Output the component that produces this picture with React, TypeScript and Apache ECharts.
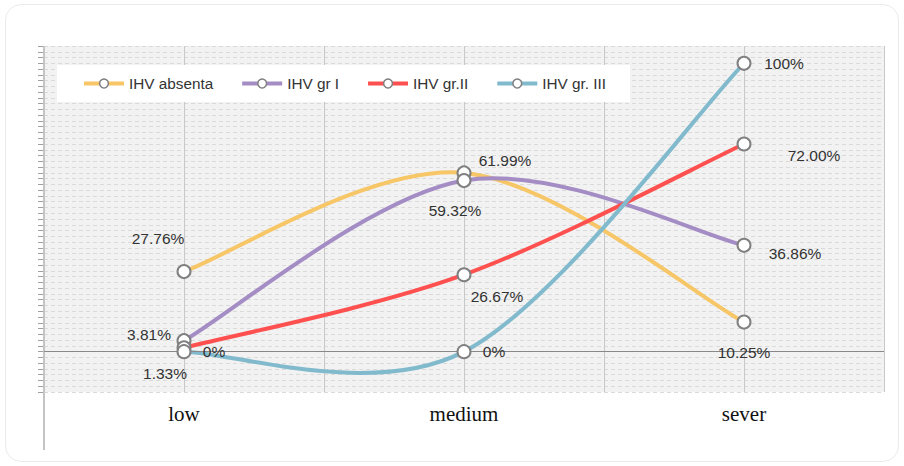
import React, { useEffect, useRef } from "react";
import * as echarts from "echarts";

const categories = ["low", "medium", "sever"];
const seriesNames = ["IHV absenta", "IHV gr I", "IHV gr.II", "IHV gr. III"];
const absentaValues = [27.76, 61.99, 10.25];
const grIValues = [3.81, 59.32, 36.86];
const grIIValues = [1.33, 26.67, 72.0];
const grIIIValues = [0, 0, 100];
const absentaLabels = ["27.76%", "61.99%", "10.25%"];
const grILabels = ["3.81%", "59.32%", "36.86%"];
const grIILabels = ["1.33%", "26.67%", "72.00%"];
const grIIILabels = ["0%", "0%", "100%"];

const colors = ["#F6C667", "#A48CC4", "#FF5050", "#82BACD"];
const labelOffsets = [
  [[-26, -33], [41, -12], [0, 30]],
  [[-35, -6], [-9, 30], [51, 8]],
  [[-19, 26], [33, 22], [70, 11]],
  [[30, 0], [30, 0], [40, 0]],
];

const FONT = "Liberation Sans, Arial, sans-serif";

export default function App() {
  const ref = useRef<HTMLDivElement>(null);
  useEffect(() => {
    if (!ref.current) return;
    const chart = echarts.init(ref.current, undefined, { renderer: "svg" });
    const values = [absentaValues, grIValues, grIIValues, grIIIValues];
    const labels = [absentaLabels, grILabels, grIILabels, grIIILabels];

    // Smooth curves (cardinal spline, tension 1/6) drawn through the axis scales
    const curveSeries: any[] = values.map((vals, si) => ({
      name: "curve-" + si,
      type: "custom",
      coordinateSystem: "cartesian2d",
      xAxisIndex: 0,
      yAxisIndex: 0,
      silent: true,
      z: 2 + si * 0.1,
      encode: { x: 0, y: 1 },
      data: vals.map((v, k) => [k, v]),
      renderItem: (params: any, api: any) => {
        const i = params.dataIndex;
        const n = vals.length;
        if (i >= n - 1) return null;
        const pts = vals.map((v, k) => api.coord([k, v]));
        const p0 = pts[i - 1] || pts[i];
        const p1 = pts[i];
        const p2 = pts[i + 1];
        const p3 = pts[i + 2] || pts[i + 1];
        return {
          type: "bezierCurve",
          shape: {
            x1: p1[0],
            y1: p1[1],
            x2: p2[0],
            y2: p2[1],
            cpx1: p1[0] + (p2[0] - p0[0]) / 6,
            cpy1: p1[1] + (p2[1] - p0[1]) / 6,
            cpx2: p2[0] - (p3[0] - p1[0]) / 6,
            cpy2: p2[1] - (p3[1] - p1[1]) / 6,
          },
          style: { stroke: colors[si], lineWidth: 4, fill: "none", lineCap: "round" },
        };
      },
    }));

    const pointSeries: any[] = seriesNames.map((name, si) => ({
      name,
      type: "line",
      xAxisIndex: 0,
      yAxisIndex: 0,
      symbol: "circle",
      symbolSize: 13,
      showAllSymbol: true,
      lineStyle: { width: 4, color: colors[si], opacity: 0 },
      itemStyle: { color: "#ffffff", borderColor: "#808080", borderWidth: 2 },
      z: 5 + si,
      data: values[si].map((v, i) => ({
        value: v,
        label: {
          show: true,
          position: "inside",
          offset: labelOffsets[si][i],
          formatter: labels[si][i],
          fontSize: 15.5,
          fontFamily: FONT,
          color: "#333333",
        },
      })),
      markLine:
        si === 0
          ? {
              silent: true,
              symbol: "none",
              label: { show: false },
              lineStyle: { color: "#888888", width: 1, type: "solid", opacity: 1 },
              data: [{ yAxis: 0 }],
            }
          : undefined,
    }));

    chart.setOption({
      animation: false,
      grid: {
        left: 44,
        right: 20,
        top: 46,
        bottom: 74,
        show: true,
        backgroundColor: "#f2f2f2",
        borderWidth: 0,
      },
      legend: {
        left: 57,
        top: 65,
        backgroundColor: "#ffffff",
        padding: [11, 24, 11, 25],
        itemGap: 27,
        itemWidth: 40,
        itemHeight: 11,
        textStyle: {
          fontSize: 15.3,
          color: "#333333",
          fontFamily: FONT,
        },
        data: seriesNames.map((name, si) => ({
          name,
          lineStyle: { color: colors[si], width: 4, opacity: 1 },
          itemStyle: { color: "#ffffff", borderColor: "#808080", borderWidth: 1.5 },
        })),
      },
      color: colors,
      xAxis: [
        {
          type: "category",
          data: categories,
          boundaryGap: true,
          axisLine: { show: false },
          axisTick: { show: false },
          splitLine: { show: false },
          axisLabel: {
            fontSize: 21,
            fontFamily: "Liberation Serif, Times New Roman, serif",
            color: "#111111",
            margin: 11,
          },
        },
        {
          type: "value",
          min: 0,
          max: 6,
          interval: 1,
          show: true,
          position: "bottom",
          axisLine: { show: false },
          axisTick: { show: false },
          axisLabel: { show: false },
          splitLine: { show: true, lineStyle: { color: "#c8c8c8", width: 1 } },
        },
      ],
      yAxis: {
        type: "value",
        min: -14,
        max: 106,
        interval: 2,
        axisLine: { show: false },
        axisTick: {
          show: true,
          length: 6,
          lineStyle: { color: "#a0a0a0" },
        },
        axisLabel: { show: false },
        splitLine: {
          show: true,
          lineStyle: { color: "#dadada", type: [4, 3], width: 1 },
        },
      },
      graphic: [
        {
          type: "line",
          shape: { x1: 44, y1: 46, x2: 44, y2: 450 },
          style: { stroke: "#c4c4c4", lineWidth: 2 },
          z: 1,
        },
      ],
      series: [...curveSeries, ...pointSeries],
    });
    return () => chart.dispose();
  }, []);
  return (
    <div style={{ position: "absolute", left: 0, top: 0, width: 904, height: 466, background: "#ffffff" }}>
      <div
        style={{
          position: "absolute",
          left: 5,
          top: 4,
          width: 892,
          height: 456,
          border: "1px solid #ebebeb",
          borderRadius: 16,
          background: "#ffffff",
        }}
      />
      <div ref={ref} style={{ position: "absolute", left: 0, top: 0, width: 904, height: 466 }} />
    </div>
  );
}
